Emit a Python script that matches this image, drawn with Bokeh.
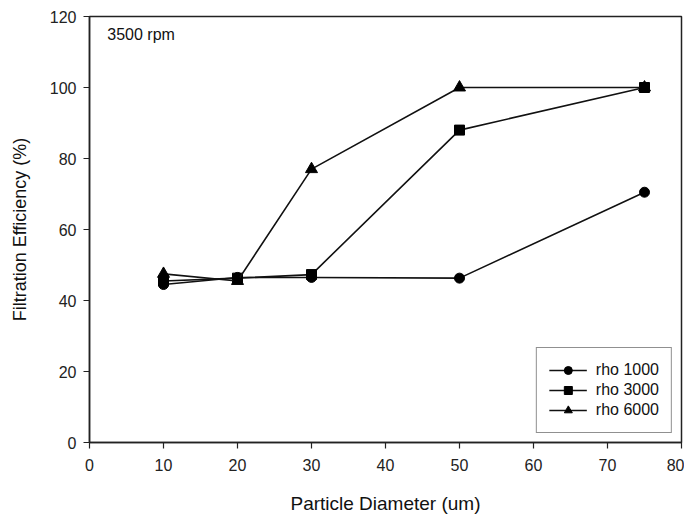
from bokeh.plotting import figure
from bokeh.models import Range1d, Label, FixedTicker, Legend, LegendItem
from bokeh.embed import file_html
from bokeh.resources import INLINE

diameter = [10, 20, 30, 50, 75]
rho_1000 = [44.5, 46.5, 46.5, 46.3, 70.5]
rho_3000 = [45.5, 46.3, 47.3, 88.0, 100.0]
rho_6000 = [47.5, 45.5, 77.0, 100.0, 100.0]
x_ticks = [0, 10, 20, 30, 40, 50, 60, 70, 80]
y_ticks = [0, 20, 40, 60, 80, 100, 120]

FONT = "Liberation Sans"

p = figure(width=684, height=516, output_backend="svg", toolbar_location=None,
           x_range=Range1d(0, 80), y_range=Range1d(0, 120),
           min_border_left=89, min_border_right=3, min_border_top=16, min_border_bottom=74)
p.grid.visible = False
p.outline_line_color = "#222222"
p.outline_line_width = 1.5
p.background_fill_color = "white"
p.border_fill_color = "white"

for ax in (p.xaxis[0], p.yaxis[0]):
    ax.axis_line_color = "#222222"
    ax.axis_line_width = 1.5
    ax.major_tick_out = 6
    ax.major_tick_in = 0
    ax.major_tick_line_color = "#222222"
    ax.major_tick_line_width = 1.2
    ax.minor_tick_line_color = None
    ax.major_label_text_font = FONT
    ax.major_label_text_font_size = "16px"
    ax.major_label_text_color = "#222222"
    ax.axis_label_text_font = FONT
    ax.axis_label_text_font_style = "normal"
    ax.axis_label_text_color = "#111111"

p.xaxis.ticker = FixedTicker(ticks=x_ticks)
p.yaxis.ticker = FixedTicker(ticks=y_ticks)
p.xaxis.axis_label = "Particle Diameter (um)"
p.yaxis.axis_label = "Filtration Efficiency (%)"
p.xaxis.axis_label_text_font_size = "19px"
p.yaxis.axis_label_text_font_size = "18px"
p.xaxis.major_label_standoff = 10
p.yaxis.major_label_standoff = 7
p.xaxis.axis_label_standoff = 19
p.yaxis.axis_label_standoff = 17

items = []
for label, vals, marker, size in [("rho 1000", rho_1000, "circle", 10),
                                  ("rho 3000", rho_3000, "square", 10),
                                  ("rho 6000", rho_6000, "triangle", 12)]:
    r1 = p.line(diameter, vals, line_color="#111111", line_width=1.6)
    r2 = p.scatter(diameter, vals, marker=marker, size=size,
                   fill_color="black", line_color="black")
    items.append(LegendItem(label=label, renderers=[r1, r2]))

legend = Legend(items=items, location="bottom_right")
legend.margin = 9
legend.padding = 12
legend.spacing = 0
legend.glyph_width = 38
legend.glyph_height = 20
legend.label_height = 20
legend.label_standoff = 9
legend.label_text_font = FONT
legend.label_text_font_size = "16px"
legend.label_text_color = "#111111"
legend.border_line_color = "#222222"
legend.border_line_width = 1.5
legend.background_fill_alpha = 1
p.add_layout(legend, "center")

p.add_layout(Label(x=2.4, y=115, text="3500 rpm", text_font=FONT,
                   text_font_size="16px", text_baseline="middle", text_color="#111111"))

open("out.html", "w").write(file_html(p, INLINE))
